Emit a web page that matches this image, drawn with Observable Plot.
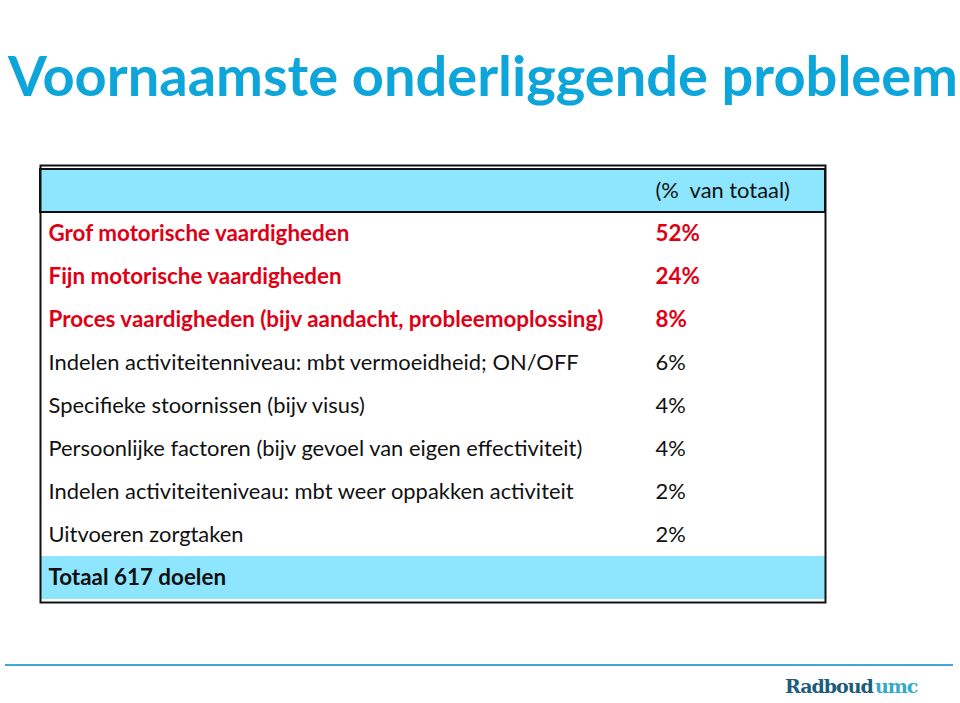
<!DOCTYPE html>
<html><head><meta charset="utf-8">
<script src="https://cdn.jsdelivr.net/npm/d3@7"></script>
<script src="https://cdn.jsdelivr.net/npm/@observablehq/plot@0.6"></script>
<style>
html,body{margin:0;padding:0;background:#fff}
body{width:960px;height:703px;overflow:hidden;position:relative;font-family:Lato,"Open Sans",sans-serif}
#title{position:absolute;left:8px;top:41px;margin:0;font-family:Lato,sans-serif;font-weight:bold;font-size:56px;line-height:1.2;color:#0ea5da;white-space:nowrap}
#chart{position:absolute;left:0;top:140px}
#rule{position:absolute;left:5px;top:664px;width:948px;height:2px;background:#3fa9cf}
#logo{position:absolute;left:785px;top:675px;font-family:"DejaVu Serif",serif;font-weight:bold;font-size:19px;line-height:1.2;white-space:nowrap;letter-spacing:-1px}
#logo .a{color:#1c5c7a}
#logo .b{color:#35a8cc;margin-left:2px}
</style>
</head><body>
<h1 id="title">Voornaamste onderliggende probleem</h1>
<div id="chart"></div>
<div id="rule"></div>
<div id="logo"><span class="a">Radboud</span><span class="b">umc</span></div>
<script>
const headerText = "(%\u00a0 van totaal)";
const labels = [
  "Grof motorische vaardigheden",
  "Fijn motorische vaardigheden",
  "Proces vaardigheden (bijv aandacht, probleemoplossing)",
  "Indelen activiteitenniveau: mbt vermoeidheid; ON/OFF",
  "Specifieke stoornissen (bijv visus)",
  "Persoonlijke factoren (bijv gevoel van eigen effectiviteit)",
  "Indelen activiteiteniveau: mbt weer oppakken activiteit",
  "Uitvoeren zorgtaken"
];
const values = ["52%", "24%", "8%", "6%", "4%", "4%", "2%", "2%"];
const emphasis = [true, true, true, false, false, false, false, false];
const totalText = "Totaal 617 doelen";

const headerRow = [{key: "kop", text: headerText}];
const dataRows = labels.map((label, i) => ({key: "r" + i, label, value: values[i], emph: emphasis[i]}));
const totalRow = [{key: "totaal", text: totalText}];
const keys = [...headerRow, ...dataRows, ...totalRow].map(d => d.key);

const cyan = "#8de6fd";
const red = "#e00015";
const fsR = 21.9;
const fsB = 22.4;

const plot = Plot.plot({
  width: 960,
  height: 480,
  marginTop: 25,
  marginBottom: 18,
  marginLeft: 40,
  marginRight: 135,
  style: {fontFamily: "Lato, sans-serif", background: "#fff"},
  y: {type: "band", domain: keys, padding: 0, axis: null},
  marks: [
    Plot.cell(totalRow, {y: "key", fill: cyan}),
    Plot.cell(headerRow, {y: "key", fill: cyan, stroke: "#111", strokeWidth: 2}),
    Plot.frame({stroke: "#111", strokeWidth: 2}),
    Plot.text(headerRow, {y: "key", text: "text", frameAnchor: "left", textAnchor: "start", dx: 615, fontSize: fsR, fill: "#111"}),
    Plot.text(dataRows.filter(d => d.emph), {y: "key", text: "label", frameAnchor: "left", textAnchor: "start", dx: 8, fontSize: fsB, fontWeight: "bold", fill: red}),
    Plot.text(dataRows.filter(d => d.emph), {y: "key", text: "value", frameAnchor: "left", textAnchor: "start", dx: 615, fontSize: fsB, fontWeight: "bold", fill: red}),
    Plot.text(dataRows.filter(d => !d.emph), {y: "key", text: "label", frameAnchor: "left", textAnchor: "start", dx: 8, fontSize: fsR, fill: "#111"}),
    Plot.text(dataRows.filter(d => !d.emph), {y: "key", text: "value", frameAnchor: "left", textAnchor: "start", dx: 615, fontSize: fsR, fill: "#111"}),
    Plot.text(totalRow, {y: "key", text: "text", frameAnchor: "left", textAnchor: "start", dx: 8, fontSize: fsB, fontWeight: "bold", fill: "#111"})
  ]
});
document.getElementById("chart").appendChild(plot);
</script>
</body></html>
